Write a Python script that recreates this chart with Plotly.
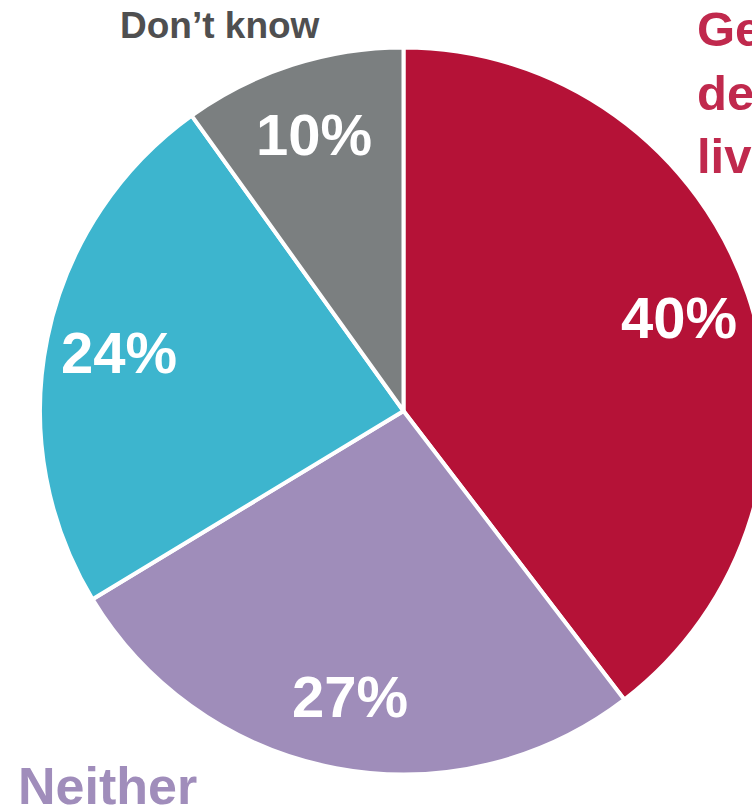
import math
import plotly.graph_objects as go


# -------------------------------------------------
# Data
# -------------------------------------------------

labels = ["Generally desirable living", "Neither", "Other", "Don't know"]
values = [40, 27, 24, 10]
colors = ["#B51237", "#9F8DBA", "#3DB5CE", "#7B7F80"]


# -------------------------------------------------
# Layout constants (pixels)
# -------------------------------------------------

W, H = 780, 811
PIE_LEFT, PIE_RIGHT = 40, 767
PIE_TOP, PIE_BOTTOM = 47, 775

cx = (PIE_LEFT + PIE_RIGHT) / 2
cy = (PIE_TOP + PIE_BOTTOM) / 2
r = (PIE_RIGHT - PIE_LEFT) / 2


fig = go.Figure(
    go.Pie(
        labels=labels,
        values=values,
        sort=False,
        direction="clockwise",
        rotation=0,
        textinfo="none",
        hoverinfo="label+value",
        marker=dict(colors=colors, line=dict(color="white", width=4)),
        domain=dict(
            x=[PIE_LEFT / W, PIE_RIGHT / W],
            y=[1 - PIE_BOTTOM / H, 1 - PIE_TOP / H],
        ),
        showlegend=False,
    )
)


# -------------------------------------------------
# Percentage labels placed at slice mid-angles
# -------------------------------------------------

total = sum(values)
cum = 0
for v in values:
    mid = (cum + v / 2) / total * 2 * math.pi
    cum += v
    px = cx + 0.80 * r * math.sin(mid)
    py = cy - 0.80 * r * math.cos(mid)
    fig.add_annotation(
        x=px / W,
        y=1 - py / H,
        xref="paper",
        yref="paper",
        text=f"{v}%",
        showarrow=False,
        xanchor="center",
        yanchor="middle",
        font=dict(family="Arial, Liberation Sans", size=58, color="white", weight="bold"),
    )


# -------------------------------------------------
# Category labels
# -------------------------------------------------

fig.add_annotation(
    x=220 / W, y=1 - 25 / H, xref="paper", yref="paper",
    text="Don’t know", showarrow=False,
    xanchor="center", yanchor="middle",
    font=dict(family="Arial, Liberation Sans", size=37, color="#4F4F50", weight="bold"),
)

fig.add_annotation(
    x=695 / W, y=1 - 0 / H, xref="paper", yref="paper",
    text="Generally<br>desirable<br>living", showarrow=False,
    xanchor="left", yanchor="top", align="left",
    font=dict(family="Arial, Liberation Sans", size=49, color="#C0294D", weight="bold"),
)

fig.add_annotation(
    x=16 / W, y=1 - 786 / H, xref="paper", yref="paper",
    text="Neither", showarrow=False,
    xanchor="left", yanchor="middle",
    font=dict(family="Arial, Liberation Sans", size=52, color="#A08DBB", weight="bold"),
)


fig.update_layout(
    width=W,
    height=H,
    margin=dict(l=0, r=0, t=0, b=0),
    paper_bgcolor="white",
    plot_bgcolor="white",
)

fig.write_html(
    "out.html",
    config={"displayModeBar": False},
    post_script="document.body.style.margin='0';document.body.style.overflow='hidden';",
)
